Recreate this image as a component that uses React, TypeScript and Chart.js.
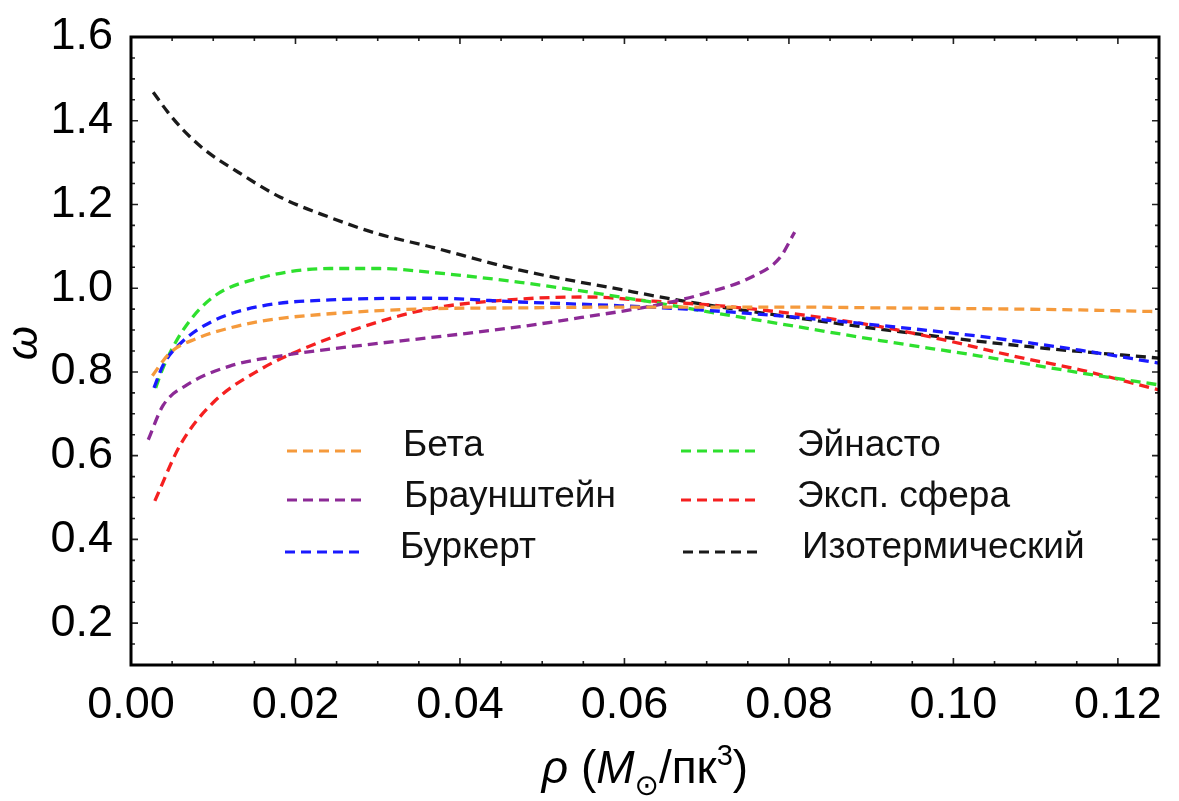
import React, { useEffect, useRef } from "react";
import { Chart, registerables } from "chart.js";

Chart.register(...registerables);

// ---------- data ----------
const seriesLabels = ["Бета", "Браунштейн", "Буркерт", "Эйнасто", "Эксп. сфера", "Изотермический"];
const seriesColors = ["#f59a3c", "#8c2a96", "#1a1aff", "#2ee02e", "#f52020", "#1a1a1a"];

const betaX = [0.0026, 0.0047, 0.008, 0.012, 0.016, 0.0242, 0.0364, 0.0473, 0.0595, 0.0716, 0.0805, 0.0911, 0.1032, 0.1154, 0.125];
const betaY = [0.791, 0.845, 0.88, 0.905, 0.922, 0.939, 0.951, 0.953, 0.955, 0.955, 0.955, 0.953, 0.951, 0.948, 0.944];

const brownX = [0.0021, 0.0039, 0.0068, 0.012, 0.0181, 0.0282, 0.0364, 0.0473, 0.0554, 0.0635, 0.0695, 0.0756, 0.0789, 0.0807];
const brownY = [0.638, 0.72, 0.769, 0.814, 0.838, 0.864, 0.882, 0.908, 0.932, 0.958, 0.986, 1.028, 1.073, 1.134];

const burkertX = [0.0028, 0.0039, 0.006, 0.01, 0.016, 0.0242, 0.0364, 0.0473, 0.0595, 0.0676, 0.0789, 0.0911, 0.1032, 0.1154, 0.125];
const burkertY = [0.762, 0.816, 0.868, 0.922, 0.958, 0.972, 0.976, 0.967, 0.958, 0.95, 0.934, 0.911, 0.885, 0.852, 0.821];

const einastoX = [0.003, 0.0039, 0.0063, 0.01, 0.016, 0.0242, 0.0303, 0.0364, 0.0473, 0.0595, 0.0716, 0.0789, 0.0911, 0.1032, 0.1154, 0.125];
const einastoY = [0.762, 0.81, 0.899, 0.979, 1.026, 1.047, 1.047, 1.038, 1.014, 0.979, 0.939, 0.915, 0.875, 0.838, 0.798, 0.769];

const expX = [0.0029, 0.006, 0.01, 0.016, 0.0202, 0.0282, 0.0364, 0.0473, 0.0554, 0.0635, 0.0716, 0.0805, 0.0911, 0.0992, 0.1073, 0.1154, 0.125];
const expY = [0.492, 0.626, 0.727, 0.809, 0.849, 0.908, 0.951, 0.974, 0.979, 0.969, 0.958, 0.939, 0.908, 0.875, 0.838, 0.805, 0.757];

const isoX = [0.0027, 0.0045, 0.0063, 0.009, 0.0124, 0.0181, 0.0242, 0.03, 0.0364, 0.0473, 0.0595, 0.0655, 0.0728, 0.0862, 0.0971, 0.1114, 0.125];
const isoY = [1.468, 1.42, 1.379, 1.33, 1.285, 1.218, 1.169, 1.13, 1.099, 1.043, 0.997, 0.975, 0.952, 0.915, 0.887, 0.856, 0.833];

const seriesX = [betaX, brownX, burkertX, einastoX, expX, isoX];
const seriesY = [betaY, brownY, burkertY, einastoY, expY, isoY];

const xTickValues = [0, 0.02, 0.04, 0.06, 0.08, 0.1, 0.12];
const yTickValues = [0.2, 0.4, 0.6, 0.8, 1.0, 1.2, 1.4, 1.6];
const xMin = 0, xMax = 0.125, xMinorStep = 0.005;
const yMin = 0.1, yMax = 1.6, yMinorStep = 0.05;

const yTitle = "ω";
const xTitleParts = [
  { t: "ρ", italic: true, kind: "n" },
  { t: " (", italic: false, kind: "n" },
  { t: "M", italic: true, kind: "n" },
  { t: "⊙", italic: false, kind: "sub" },
  { t: "/пк", italic: false, kind: "n" },
  { t: "3", italic: false, kind: "sup" },
  { t: ")", italic: false, kind: "n" },
];

const FONT = "'Liberation Sans', Arial, 'DejaVu Sans', sans-serif";

// ---------- plugins ----------
const framePlugin = {
  id: "frameTicksTitles",
  afterDraw(chart: any) {
    const { ctx, chartArea: a, scales } = chart;
    const xs = scales.x, ys = scales.y;
    ctx.save();
    ctx.strokeStyle = "#222";
    ctx.lineWidth = 1.6;
    ctx.setLineDash([]);
    const nx = Math.round((xMax - xMin) / xMinorStep);
    for (let i = 0; i <= nx; i++) {
      const v = xMin + i * xMinorStep;
      const px = xs.getPixelForValue(v);
      const len = i % 4 === 0 ? 7 : 4;
      ctx.beginPath();
      ctx.moveTo(px, a.bottom);
      ctx.lineTo(px, a.bottom - len);
      ctx.moveTo(px, a.top);
      ctx.lineTo(px, a.top + len);
      ctx.stroke();
    }
    const ny = Math.round((yMax - yMin) / yMinorStep);
    for (let i = 0; i <= ny; i++) {
      const v = yMin + i * yMinorStep;
      const py = ys.getPixelForValue(v);
      const major = Math.abs(Math.round(v * 100) % 20) === 0;
      const len = major ? 7 : 4;
      ctx.beginPath();
      ctx.moveTo(a.left, py);
      ctx.lineTo(a.left + len, py);
      ctx.moveTo(a.right, py);
      ctx.lineTo(a.right - len, py);
      ctx.stroke();
    }
    ctx.lineWidth = 3;
    ctx.strokeStyle = "#000";
    ctx.strokeRect(a.left, a.top, a.right - a.left, a.bottom - a.top);

    // y title
    ctx.fillStyle = "#000";
    ctx.save();
    ctx.translate(25, 343);
    ctx.rotate(-Math.PI / 2);
    ctx.font = `italic 44px ${FONT}`;
    ctx.textAlign = "center";
    ctx.textBaseline = "middle";
    ctx.fillText(yTitle, 0, 0);
    ctx.restore();

    // x title
    const big = 46, small = 29;
    const fontFor = (p: any) =>
      `${p.italic ? "italic " : ""}${p.kind === "n" ? big : small}px ${FONT}`;
    let total = 0;
    const widths = xTitleParts.map((p) => {
      ctx.font = fontFor(p);
      const w = ctx.measureText(p.t).width;
      total += w;
      return w;
    });
    let x = (a.left + a.right) / 2 - total / 2;
    const base = 783;
    ctx.textAlign = "left";
    ctx.textBaseline = "alphabetic";
    xTitleParts.forEach((p, i) => {
      ctx.font = fontFor(p);
      const dy = p.kind === "sub" ? 12 : p.kind === "sup" ? -18 : 0;
      ctx.fillText(p.t, x, base + dy);
      x += widths[i];
    });
    ctx.restore();
  },
};

const legendLineX = [287, 287, 285, 681, 681, 683];
const legendLineY = [451, 500, 552, 451, 500, 552];
const legendTextX = [403, 404, 400, 797, 797, 802];
const legendTextY = [446, 497, 548, 446, 497, 548];

const legendPlugin = {
  id: "customLegend",
  afterDatasetsDraw(chart: any) {
    const { ctx } = chart;
    ctx.save();
    chart.data.datasets.forEach((ds: any, i: number) => {
      ctx.strokeStyle = ds.borderColor;
      ctx.lineWidth = 3.2;
      ctx.setLineDash([10, 6]);
      ctx.beginPath();
      ctx.moveTo(legendLineX[i], legendLineY[i]);
      ctx.lineTo(legendLineX[i] + 74, legendLineY[i]);
      ctx.stroke();
      ctx.setLineDash([]);
      ctx.fillStyle = "#111";
      ctx.font = `37px ${FONT}`;
      ctx.textAlign = "left";
      ctx.textBaseline = "middle";
      ctx.fillText(ds.label, legendTextX[i], legendTextY[i]);
    });
    ctx.restore();
  },
};

export default function App() {
  const canvasRef = useRef<HTMLCanvasElement | null>(null);

  useEffect(() => {
    const canvas = canvasRef.current;
    if (!canvas) return;
    const datasets = seriesLabels.map((label, i) => ({
      label,
      data: seriesX[i].map((x, j) => ({ x, y: seriesY[i][j] })),
      borderColor: seriesColors[i],
      backgroundColor: seriesColors[i],
      borderWidth: 3.3,
      borderDash: [10, 6],
      pointRadius: 0,
      fill: false,
      cubicInterpolationMode: "monotone" as const,
    }));

    const chart = new Chart(canvas, {
      type: "line",
      data: { datasets },
      options: {
        animation: false,
        responsive: false,
        maintainAspectRatio: false,
        layout: { padding: { top: 29, right: 20, left: 0, bottom: 0 } },
        plugins: { legend: { display: false }, tooltip: { enabled: false } },
        scales: {
          x: {
            type: "linear",
            min: xMin,
            max: xMax,
            afterBuildTicks: (scale: any) => {
              scale.ticks = xTickValues.map((v) => ({ value: v }));
            },
            afterFit: (scale: any) => {
              scale.height = 136;
            },
            grid: { display: false },
            border: { display: false },
            ticks: {
              autoSkip: false,
              maxRotation: 0,
              padding: 6,
              color: "#000",
              font: { size: 45, family: FONT },
              callback: (v: any) => Number(v).toFixed(2),
            },
          },
          y: {
            type: "linear",
            min: yMin,
            max: yMax,
            afterBuildTicks: (scale: any) => {
              scale.ticks = yTickValues.map((v) => ({ value: v }));
            },
            afterFit: (scale: any) => {
              scale.width = 131;
            },
            grid: { display: false },
            border: { display: false },
            ticks: {
              autoSkip: false,
              padding: 10,
              color: "#000",
              font: { size: 45, family: FONT },
              callback: (v: any) => Number(v).toFixed(1),
            },
          },
        },
      },
      plugins: [framePlugin, legendPlugin],
    });
    return () => chart.destroy();
  }, []);

  return (
    <div style={{ position: "absolute", left: 0, top: 0, width: 1179, height: 801, background: "#fff" }}>
      <canvas ref={canvasRef} width={1179} height={801} style={{ width: 1179, height: 801, display: "block" }} />
    </div>
  );
}
